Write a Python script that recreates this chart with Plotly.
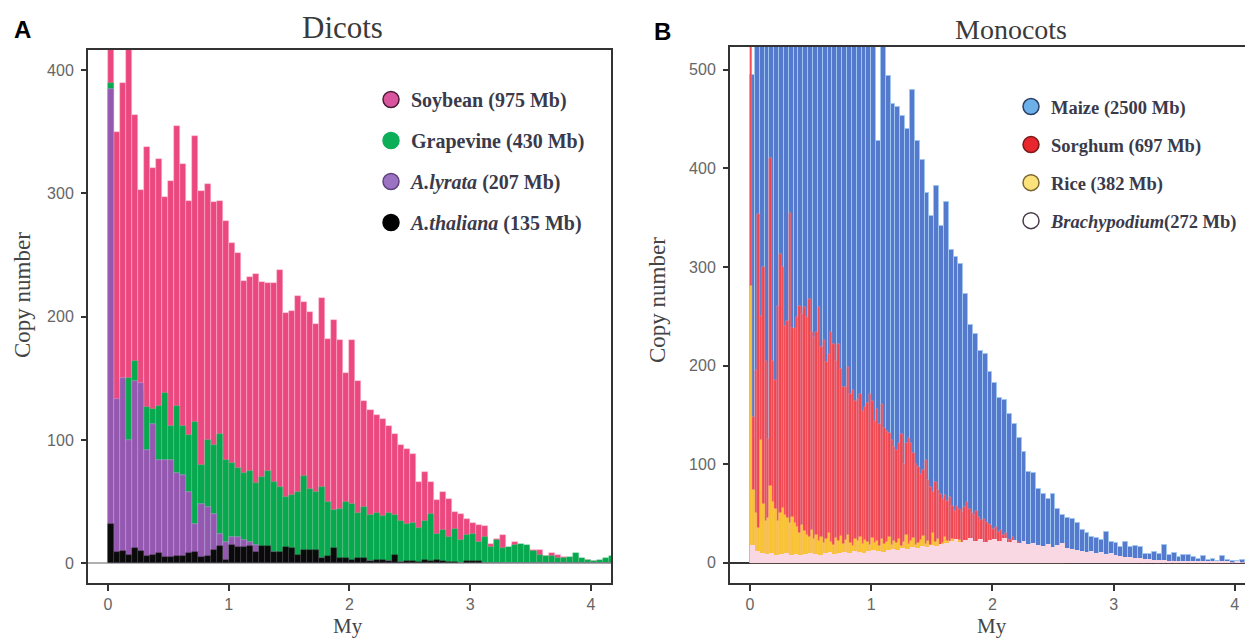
import numpy as np
import plotly.graph_objects as go

# ---------------- Panel A (Dicots), bin width 0.05 My ----------------
BIN_A = 0.05
soybean = [560, 350, 390, 430, 364, 303, 338, 321, 328, 297,
           310, 355, 324, 294, 347, 302, 308, 293, 294, 278,
           260, 252, 229, 232, 235, 228, 227, 227, 238, 203,
           205, 217, 212, 204, 194, 215, 182, 197, 181, 154,
           181, 148, 132, 124, 120, 117, 111, 105, 96, 93,
           89, 66, 74, 66, 51, 58, 52, 42, 40, 36,
           33, 31, 30, 16, 20, 23, 12, 17, 14, 12,
           11, 11, 6, 8, 7, 5, 4, 5, 3, 3,
           2, 2, 3, 2]
grapevine = [390, 130, 148, 150, 164, 140, 127, 125, 128, 138,
             111, 128, 111, 104, 115, 80, 100, 96, 105, 84,
             81, 77, 73, 75, 65, 70, 75, 66, 62, 54,
             55, 58, 71, 60, 58, 62, 50, 43, 44, 50,
             48, 41, 46, 39, 41, 38, 41, 39, 34, 32,
             33, 29, 34, 40, 24, 27, 21, 28, 19, 23,
             24, 17, 21, 13, 19, 12, 13, 15, 16, 15,
             10, 7, 6, 6, 4, 4, 5, 8, 4, 3,
             2, 3, 4, 6]
a_lyrata = [385, 133, 150, 100, 148, 146, 92, 113, 84, 84,
            84, 73, 72, 58, 32, 48, 46, 40, 24, 17,
            21, 21, 19, 17, 15, 12, 10, 9, 8, 7,
            7, 6, 6, 5, 5, 4, 4, 3, 3, 2,
            2, 2, 1, 2, 1, 1, 2, 1, 1, 1,
            0, 0, 0, 0, 0, 0, 0, 0, 0, 0,
            0, 0, 0, 0, 0, 0, 0, 0, 0, 0,
            0, 0, 0, 0, 0, 0, 0, 0, 0, 0,
            0, 0, 0, 0]
a_thaliana = [32, 9, 10, 7, 12, 10, 6, 7, 8, 5,
              5, 6, 6, 8, 9, 5, 6, 11, 14, 3,
              15, 13, 13, 14, 9, 14, 14, 9, 9, 13,
              12, 7, 11, 11, 11, 4, 6, 12, 4, 4,
              3, 4, 4, 2, 3, 3, 2, 7, 1, 2,
              2, 1, 3, 2, 3, 2, 1, 1, 0, 2,
              2, 2, 0, 0, 0, 0, 0, 0, 0, 0,
              0, 0, 0, 0, 0, 0, 0, 0, 0, 0,
              0, 0, 0, 0]

# ---------------- Panel B (Monocots) ----------------
BIN_MAIZE = 0.04
maize = [495, 640, 720, 780, 820, 850, 860, 870, 860, 850,
         840, 820, 800, 780, 760, 740, 720, 700, 680, 660,
         640, 620, 600, 580, 560, 545, 428, 530, 494, 465,
         462, 453, 440, 479, 428, 408, 375, 352, 382, 342,
         366, 317, 310, 303, 273, 241, 232, 215, 212, 193,
         182, 167, 165, 151, 141, 127, 112, 92, 91, 75,
         70, 65, 70, 55, 48, 45, 44, 40, 33, 30,
         26, 25, 23, 31, 21, 20, 16, 21, 16, 17,
         16, 9, 9, 11, 9, 18, 8, 10, 6, 8,
         8, 6, 4, 7, 3, 4, 2, 7, 3, 2,
         2, 3, 2, 1]

BIN_FINE = 0.02
sorghum = [620, 148, 195, 354, 250, 300, 205, 126, 410, 205,
           185, 260, 313, 300, 240, 245, 355, 238, 238, 249,
           260, 252, 259, 249, 267, 234, 229, 234, 259, 219,
           226, 204, 212, 234, 222, 205, 222, 196, 178, 178,
           199, 171, 175, 164, 166, 171, 154, 158, 162, 171,
           164, 144, 156, 141, 161, 137, 134, 132, 124, 117,
           114, 121, 131, 100, 121, 127, 121, 111, 100, 97,
           90, 94, 104, 84, 77, 72, 82, 74, 70, 65,
           69, 63, 67, 58, 53, 58, 55, 52, 57, 62,
           55, 50, 48, 53, 46, 43, 44, 41, 39, 38,
           34, 36, 31, 33, 28, 30, 24, 23, 26, 19,
           21, 16, 14, 18, 12, 16, 11, 14, 9, 11,
           8, 12, 9, 18, 8, 9, 10, 6, 16, 5,
           8, 4, 12, 6, 8, 5, 3, 9, 4, 3,
           6, 3, 5, 2, 4, 3, 6, 2, 3, 5,
           2, 3, 2, 4, 1, 2, 3, 1, 2, 1,
           2, 1, 0, 1, 2, 0, 1, 0, 0, 1,
           0, 1, 0, 0, 2, 0, 0, 1, 0, 0,
           1, 0, 0, 0, 1, 0, 0, 0, 0, 1,
           0, 0, 0, 0, 0, 0, 0, 0, 0, 0,
           0, 0, 0, 0, 0, 0, 0, 0]
rice = [281, 74, 50, 35, 124, 60, 42, 45, 78, 62,
        55, 42, 50, 56, 48, 45, 40, 46, 40, 36,
        30, 38, 32, 28, 26, 33, 24, 28, 22, 26,
        20, 24, 30, 21, 18, 25, 22, 27, 19, 23,
        28, 20, 17, 24, 22, 26, 19, 23, 21, 18,
        25, 20, 22, 17, 24, 19, 21, 26, 18, 22,
        20, 24, 17, 21, 28, 19, 22, 25, 18, 20,
        23, 27, 19, 22, 18, 30, 21, 24, 17, 20,
        26, 22, 19, 24, 18, 21, 23, 17, 20, 19,
        22, 18, 16, 20, 17, 15, 19, 14, 16, 13,
        15, 12, 14, 11, 13, 10, 12, 9, 11, 8,
        10, 7, 9, 6, 8, 5, 7, 4, 6, 5,
        4, 3, 5, 3, 2, 4, 2, 3, 1, 2]
brachypodium = [18, 12, 10, 9, 10, 8, 9, 10, 8, 9,
                8, 9, 10, 9, 8, 10, 11, 9, 10, 11,
                10, 12, 11, 10, 12, 13, 12, 11, 13, 14,
                13, 15, 14, 16, 15, 17, 16, 18, 17, 19,
                20, 22, 24, 21, 23, 25, 22, 24, 21, 23,
                24, 22, 25, 21, 23, 20, 22, 19, 20, 18,
                17, 19, 16, 18, 20, 15, 14, 13, 12, 11,
                12, 10, 11, 9, 10, 8, 7, 6, 6, 5,
                5, 4, 4, 3, 3, 3, 2, 2, 2, 2,
                2, 1, 2, 1, 1, 1, 1, 1, 1, 0,
                1, 0, 0, 0]

legend_a = ["Soybean (975 Mb)", "Grapevine (430 Mb)",
            "<i>A.lyrata</i> (207 Mb)", "<i>A.thaliana</i> (135 Mb)"]
legend_b = ["Maize (2500 Mb)", "Sorghum (697 Mb)", "Rice (382 Mb)",
            "<i>Brachypodium</i>(272 Mb)"]


def centers(vals, w):
    return (np.arange(len(vals)) + 0.5) * w


SERIF = "Liberation Serif"
SANS = "Liberation Sans"

fig = go.Figure()

# ---- Panel A bars (overlaid, largest behind) ----
bar_a = [
    (soybean, "#ec4880", "rgba(255,190,215,0.8)"),
    (grapevine, "#07a94f", "rgba(120,220,160,0.5)"),
    (a_lyrata, "#9458b0", "rgba(210,180,235,0.7)"),
    (a_thaliana, "#0a0a0a", "rgba(80,80,80,0.6)"),
]
for vals, col, lcol in bar_a:
    fig.add_trace(go.Bar(x=centers(vals, BIN_A), y=vals, width=BIN_A,
                         marker=dict(color=col, line=dict(color=lcol, width=0.6)),
                         showlegend=False, xaxis="x", yaxis="y"))

# ---- Panel B bars ----
fig.add_trace(go.Bar(x=centers(maize, BIN_MAIZE), y=maize, width=BIN_MAIZE,
                     marker=dict(color="#5579cc", line=dict(color="#9fc6ef", width=1)),
                     showlegend=False, xaxis="x2", yaxis="y2"))
fig.add_trace(go.Bar(x=centers(sorghum, BIN_FINE), y=sorghum, width=BIN_FINE,
                     marker=dict(color="#f0454f", line=dict(color="rgba(255,160,170,0.7)", width=0.5)),
                     showlegend=False, xaxis="x2", yaxis="y2"))
fig.add_trace(go.Bar(x=centers(rice, BIN_FINE), y=rice, width=BIN_FINE,
                     marker=dict(color="#f8c132", line=dict(color="rgba(250,215,120,0.7)", width=0.5)),
                     showlegend=False, xaxis="x2", yaxis="y2"))
fig.add_trace(go.Bar(x=centers(brachypodium, BIN_MAIZE), y=brachypodium, width=BIN_MAIZE,
                     marker=dict(color="#f9d7e3", line=dict(width=0)),
                     showlegend=False, xaxis="x2", yaxis="y2"))

# ---- legend entries (circle symbols) ----
leg_a_style = [("#d9569e", "#4a1a35"), ("#0cae57", "#0cae57"),
               ("#9c72c2", "#5e4280"), ("#000000", "#000000")]
for i, (name, (fc, lc)) in enumerate(zip(legend_a, leg_a_style)):
    fig.add_trace(go.Scatter(x=[None], y=[None], mode="markers", name=f"<b>{name}</b>",
                             marker=dict(symbol="circle", size=20, color=fc, line=dict(color=lc, width=1.5)),
                             legend="legend", legendgroup=f"a{i}", xaxis="x", yaxis="y"))
leg_b_style = [("#6bb0e8", "#2d3f66"), ("#e8262e", "#7a1a1a"),
               ("#fbe27a", "#7a6430"), ("#ffffff", "#4a3a4a")]
for i, (name, (fc, lc)) in enumerate(zip(legend_b, leg_b_style)):
    fig.add_trace(go.Scatter(x=[None], y=[None], mode="markers", name=f"<b>{name}</b>",
                             marker=dict(symbol="circle", size=20, color=fc, line=dict(color=lc, width=1.5)),
                             legend="legend2", legendgroup=f"b{i}", xaxis="x2", yaxis="y2"))

# page offset of the plot div (default body margin) compensated here
OFF = 8
W, H = 1253 - OFF, 641 - OFF
def px_x(p): return (p - OFF) / W
def px_y(p): return 1 - (p - OFF) / H

tickfont = dict(family=SANS, size=16, color="#666666")

common_x = dict(showline=True, linecolor="#333333", linewidth=2, mirror=True,
                ticks="outside", ticklen=6, tickwidth=2, tickcolor="#333333",
                tickfont=tickfont, showgrid=False, zeroline=False, automargin=False,
                tickvals=[0, 1, 2, 3, 4])
common_y = dict(showline=True, linecolor="#333333", linewidth=2, mirror=True,
                ticks="outside", ticklen=5, tickwidth=2, tickcolor="#333333",
                tickfont=tickfont, showgrid=False, automargin=False, ticklabelstandoff=4)


def label(text, x, y, font, angle=0):
    return dict(text=text, x=px_x(x), y=px_y(y), xref="paper", yref="paper",
                xanchor="center", yanchor="middle", showarrow=False, font=font,
                textangle=angle)


ytitle_font = dict(family=SERIF, size=23, color="#444444")
xtitle_font = dict(family=SERIF, size=21, color="#444444")

fig.update_layout(
    width=W, height=H, autosize=False,
    margin=dict(l=0, r=0, t=0, b=0, autoexpand=False),
    paper_bgcolor="white", plot_bgcolor="white",
    barmode="overlay", bargap=0,
    xaxis=dict(domain=[px_x(88), px_x(611)], range=[-0.165, 4.167], anchor="y", **common_x),
    yaxis=dict(domain=[px_y(583), px_y(50)], range=[-16, 416.4], anchor="x",
               tickvals=[0, 100, 200, 300, 400], zeroline=True, zerolinecolor="#b0b0b0",
               zerolinewidth=2, **common_y),
    xaxis2=dict(domain=[px_x(730), 1.0], range=[-0.165, 4.15], anchor="y2", **common_x),
    yaxis2=dict(domain=[px_y(583), px_y(47)], range=[-20.5, 523], anchor="x2",
                tickvals=[0, 100, 200, 300, 400, 500], zeroline=True, zerolinecolor="#333333",
                zerolinewidth=2, **common_y),
    legend=dict(x=px_x(371), y=px_y(80), xanchor="left", yanchor="top",
                bgcolor="rgba(0,0,0,0)", tracegroupgap=12,
                font=dict(family=SERIF, size=20, color="#3a3a4a")),
    legend2=dict(x=px_x(1011), y=px_y(88), xanchor="left", yanchor="top",
                 bgcolor="rgba(0,0,0,0)", tracegroupgap=11,
                 font=dict(family=SERIF, size=18.5, color="#3a3a4a")),
    annotations=[
        label("Dicots", 342, 28, dict(family=SERIF, size=31, color="#3a3a3a")),
        label("Monocots", 1011, 29, dict(family=SERIF, size=28, color="#3a3a3a")),
        label("<b>A</b>", 22, 30, dict(family=SANS, size=24, color="#000000")),
        label("<b>B</b>", 662, 31, dict(family=SANS, size=24, color="#000000")),
        label("Copy number", 22, 295, ytitle_font, -90),
        label("Copy number", 657, 300, ytitle_font, -90),
        label("My", 348, 626, xtitle_font),
        label("My", 992, 626, xtitle_font),
    ],
)

fig.write_html("out.html")
